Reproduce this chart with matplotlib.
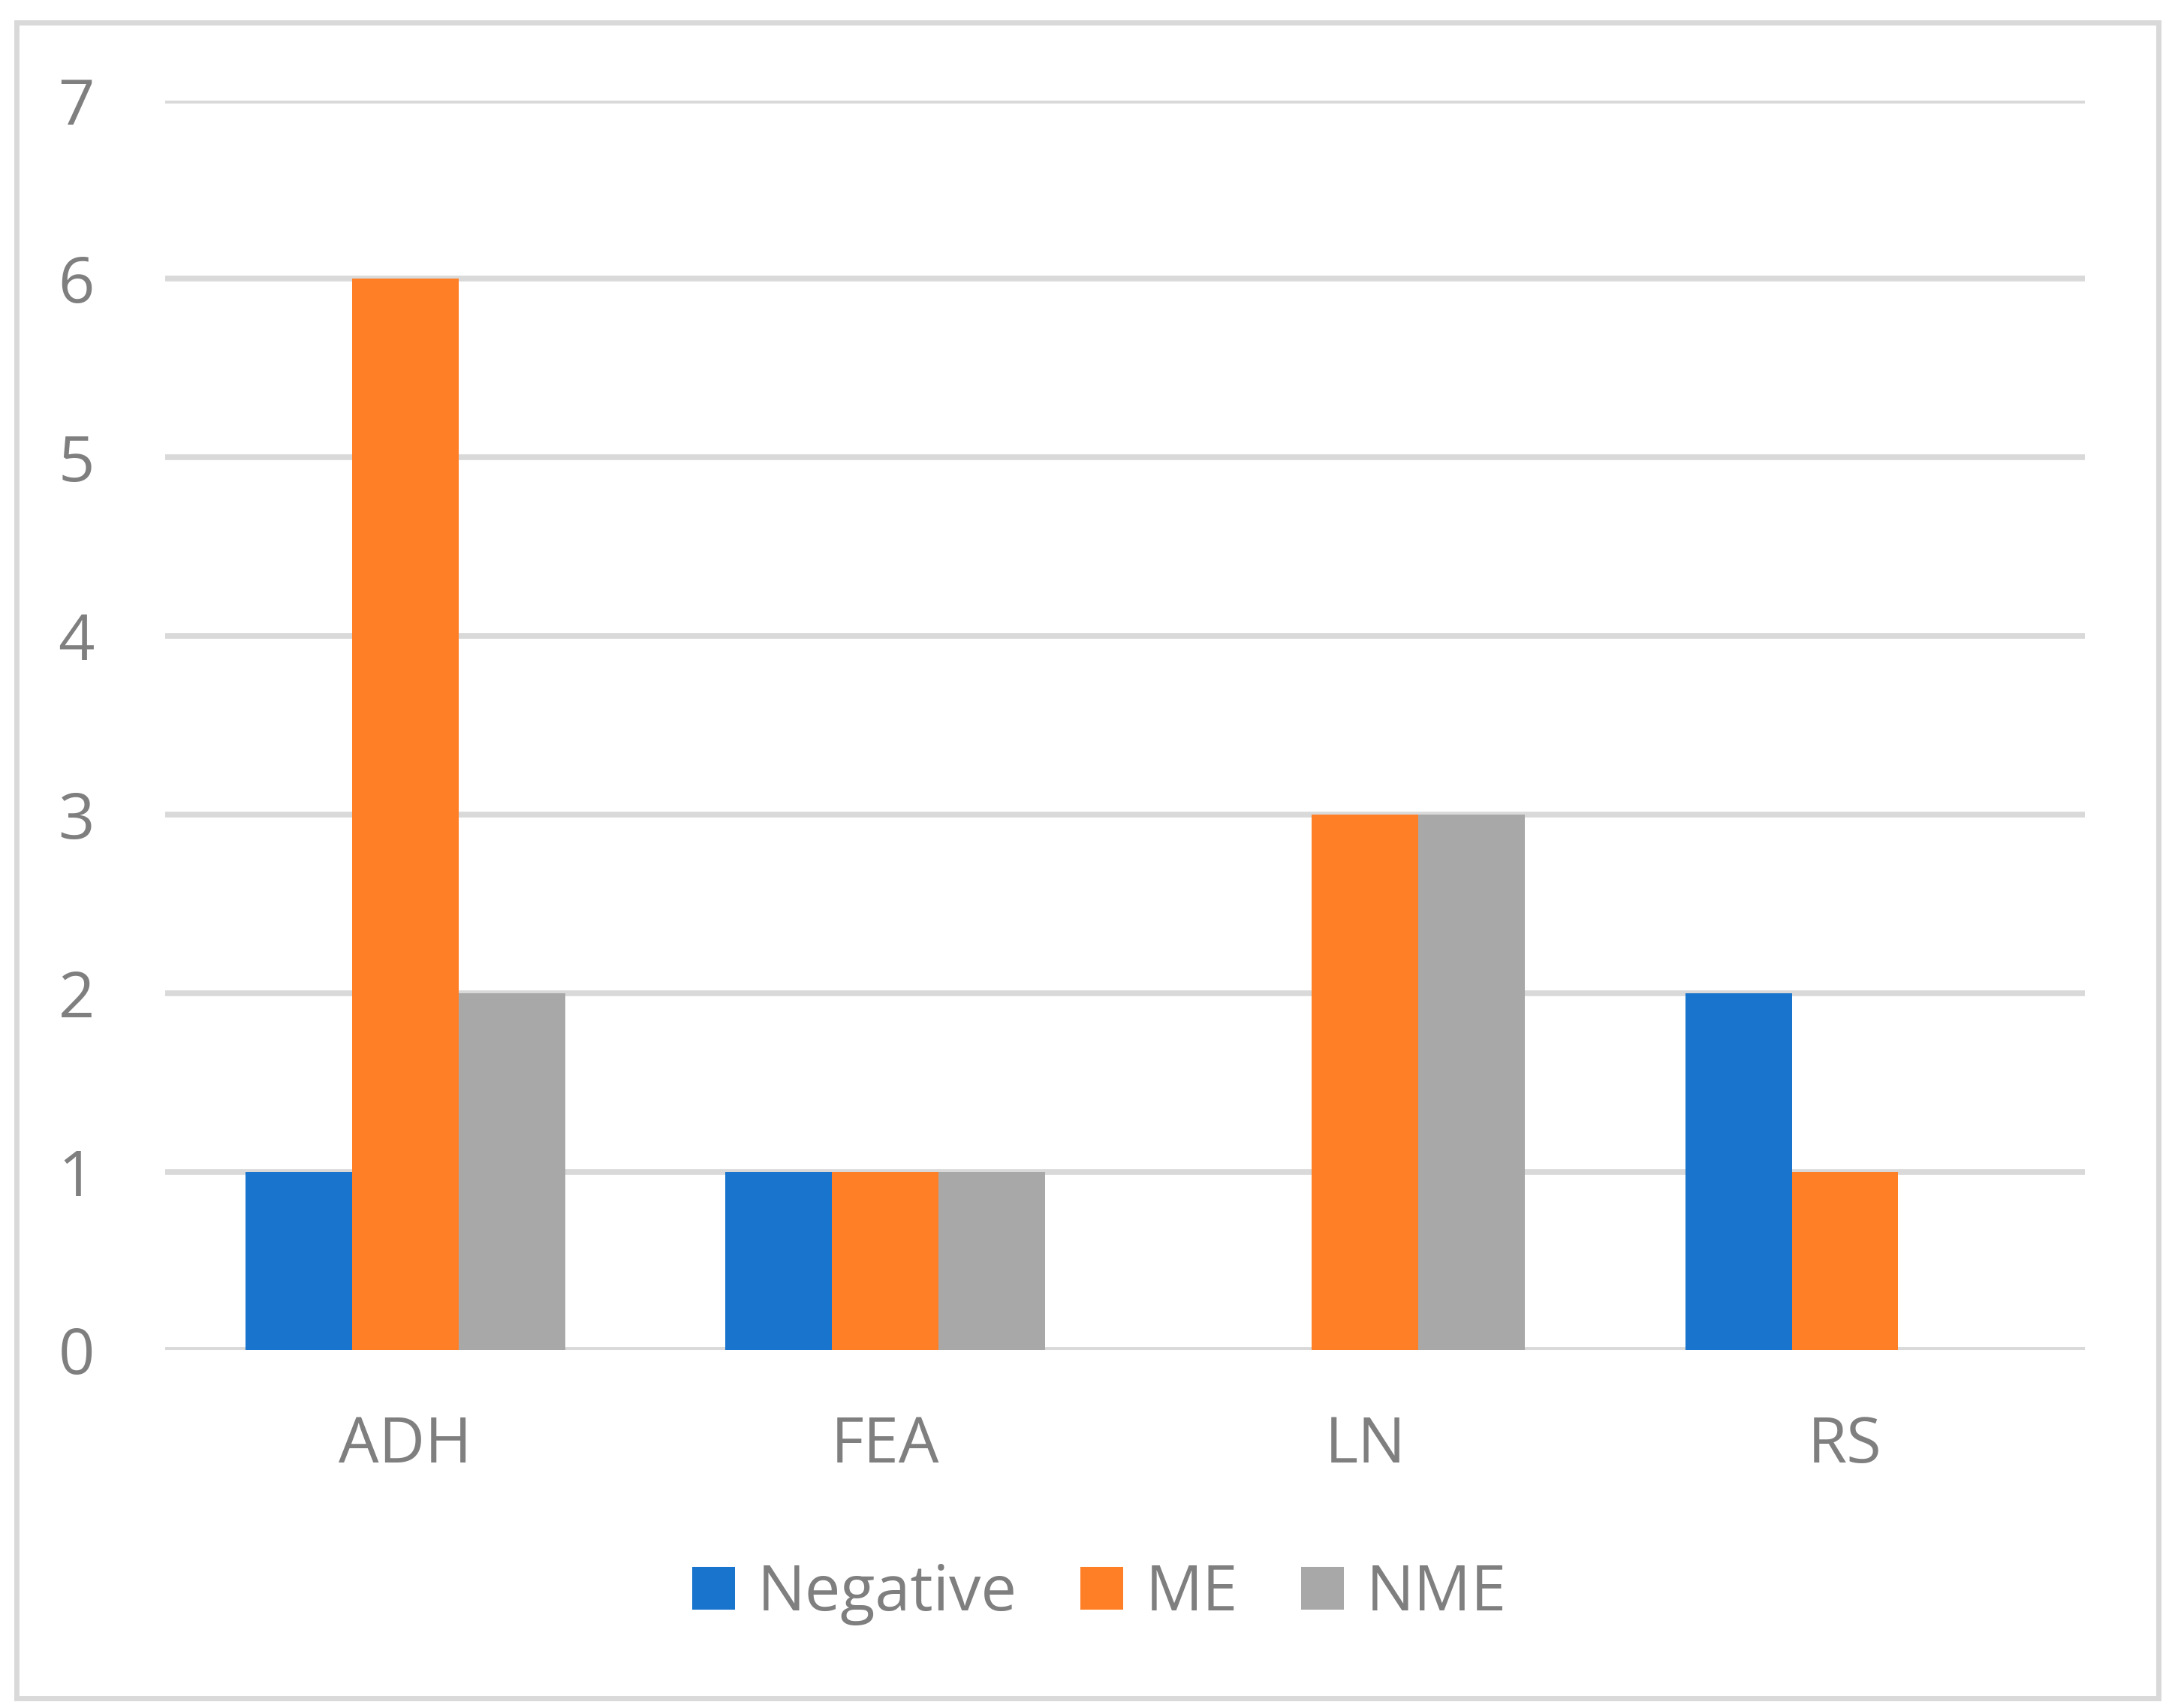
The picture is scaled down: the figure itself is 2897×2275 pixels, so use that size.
import numpy as np
import matplotlib
matplotlib.use('Agg')
import matplotlib.pyplot as plt
from matplotlib.patches import Rectangle

categories = ['ADH', 'FEA', 'LN', 'RS']
series_names = ['Negative', 'ME', 'NME']
negative = [1, 1, 0, 2]
me = [6, 1, 3, 1]
nme = [2, 1, 3, 0]
y_ticks = [0, 1, 2, 3, 4, 5, 6, 7]

colors = ['#1874CD', '#FF7F27', '#A8A8A8']
text_color = '#7F7F7F'
grid_color = '#D9D9D9'

plt.rcParams['font.family'] = ['Open Sans', 'DejaVu Sans']

fig = plt.figure(figsize=(28.97, 22.75), dpi=100)
ax = fig.add_axes([0.0761, 0.2095, 0.8825, 0.7318])

x = np.arange(len(categories))
w = 0.222
for i, (vals, name) in enumerate(zip([negative, me, nme], series_names)):
    ax.bar(x + (i - 1) * w, vals, width=w, color=colors[i], label=name, zorder=3)

ax.set_xlim(-0.5, len(categories) - 0.5)
ax.set_ylim(0, 7)
ax.set_yticks(y_ticks)
ax.set_xticks(x)
ax.set_xticklabels(categories)
ax.yaxis.grid(True, color=grid_color, linewidth=5.5, zorder=0)
ax.set_axisbelow(True)
for s in ax.spines.values():
    s.set_visible(False)
ax.axhline(0, color=grid_color, linewidth=5.5, zorder=2)
ax.tick_params(axis='both', length=0, labelsize=61, labelcolor=text_color)
ax.tick_params(axis='y', pad=68)
ax.tick_params(axis='x', pad=62)

leg = fig.legend(loc='center', bbox_to_anchor=(0.5055, 0.0668), ncol=3, frameon=False,
                 fontsize=61, handlelength=0.67, handleheight=0.65, handletextpad=0.35,
                 columnspacing=1.0, labelcolor=text_color)

# outer chart border
border = Rectangle((0.0077, 0.0057), 0.9846, 0.9813, transform=fig.transFigure,
                   fill=False, edgecolor=grid_color, linewidth=5)
fig.patches.append(border)

fig.savefig('out.png', dpi=100, facecolor='white')
